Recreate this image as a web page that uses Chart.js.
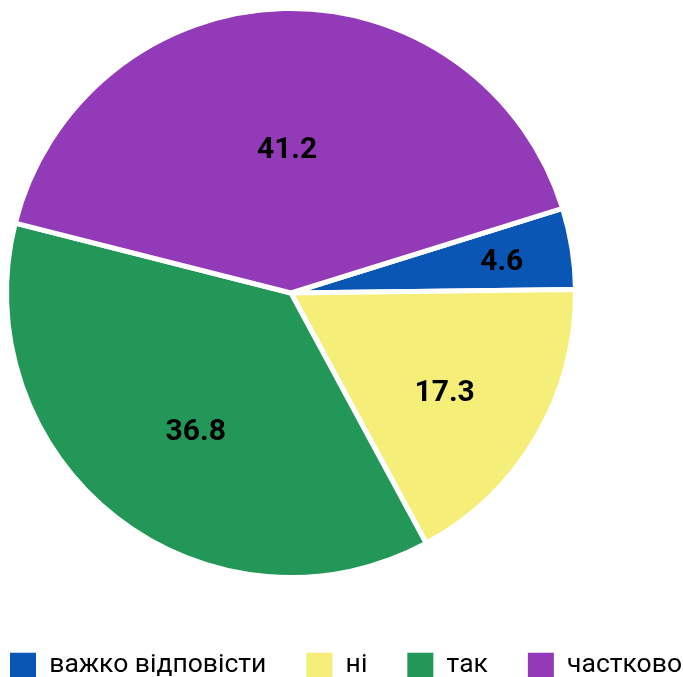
<!DOCTYPE html>
<html>
<head>
<meta charset="utf-8">
<script src="https://cdn.jsdelivr.net/npm/chart.js@4.4.1/dist/chart.umd.min.js"></script>
<style>
  html, body { margin: 0; padding: 0; background: #fff; }
  #wrap { width: 683px; height: 677px; }
</style>
</head>
<body>
<div id="wrap"><canvas id="pieChart"></canvas></div>
<script>
var labels = ["важко відповісти", "ні", "так", "частково"];
var values = [4.6, 17.3, 36.8, 41.2];
var sliceColors = ["#0a56b5", "#f5ef7a", "#239757", "#933ab9"];
// where each value label sits: fraction of radius, and a small turn in degrees
var labelRadius = [0.75, 0.64, 0.585, 0.51];
var labelTurn = [0, 2, -3, 0];

// put the pie where the reference has it, legend stays full width
var pieBox = {
    id: "pieBox",
    afterLayout: function (chart) {
        var a = chart.chartArea;
        a.left = 4; a.right = 578; a.top = 6; a.bottom = 580;
        a.width = a.right - a.left; a.height = a.bottom - a.top;
    }
};

var sliceLabels = {
    id: "sliceLabels",
    afterDatasetsDraw: function (chart) {
        var ctx = chart.ctx;
        var meta = chart.getDatasetMeta(0);
        ctx.save();
        ctx.font = "bold 30px Roboto";
        ctx.fillStyle = "#000";
        ctx.textAlign = "center";
        ctx.textBaseline = "middle";
        meta.data.forEach(function (arc, i) {
            var p = arc.getProps(["x", "y", "startAngle", "endAngle", "outerRadius"], true);
            var mid = (p.startAngle + p.endAngle) / 2 + labelTurn[i] * Math.PI / 180;
            var r = p.outerRadius * labelRadius[i];
            ctx.fillText(values[i].toFixed(1), p.x + Math.cos(mid) * r, p.y + Math.sin(mid) * r + 3);
        });
        ctx.restore();
    }
};

new Chart("pieChart", {
    type: "pie",
    data: {
        labels: labels,
        datasets: [{
            data: values,
            backgroundColor: sliceColors,
            borderColor: "#fff",
            borderWidth: 5
        }]
    },
    options: {
        responsive: true,
        maintainAspectRatio: false,
        animation: false,
        rotation: 72.7,
        layout: { padding: { left: -33, right: -42, top: 0, bottom: -12 } },
        plugins: {
            tooltip: { enabled: false },
            legend: {
                display: true,
                position: "bottom",
                labels: {
                    boxWidth: 26,
                    boxHeight: 26,
                    padding: 40,
                    color: "#000",
                    font: { size: 26.5, family: "Roboto" },
                    generateLabels: function (chart) {
                        var items = Chart.overrides.pie.plugins.legend.labels.generateLabels(chart);
                        items.forEach(function (it) { it.lineWidth = 0; });
                        return items;
                    }
                }
            }
        }
    },
    plugins: [pieBox, sliceLabels]
});
</script>
</body>
</html>
